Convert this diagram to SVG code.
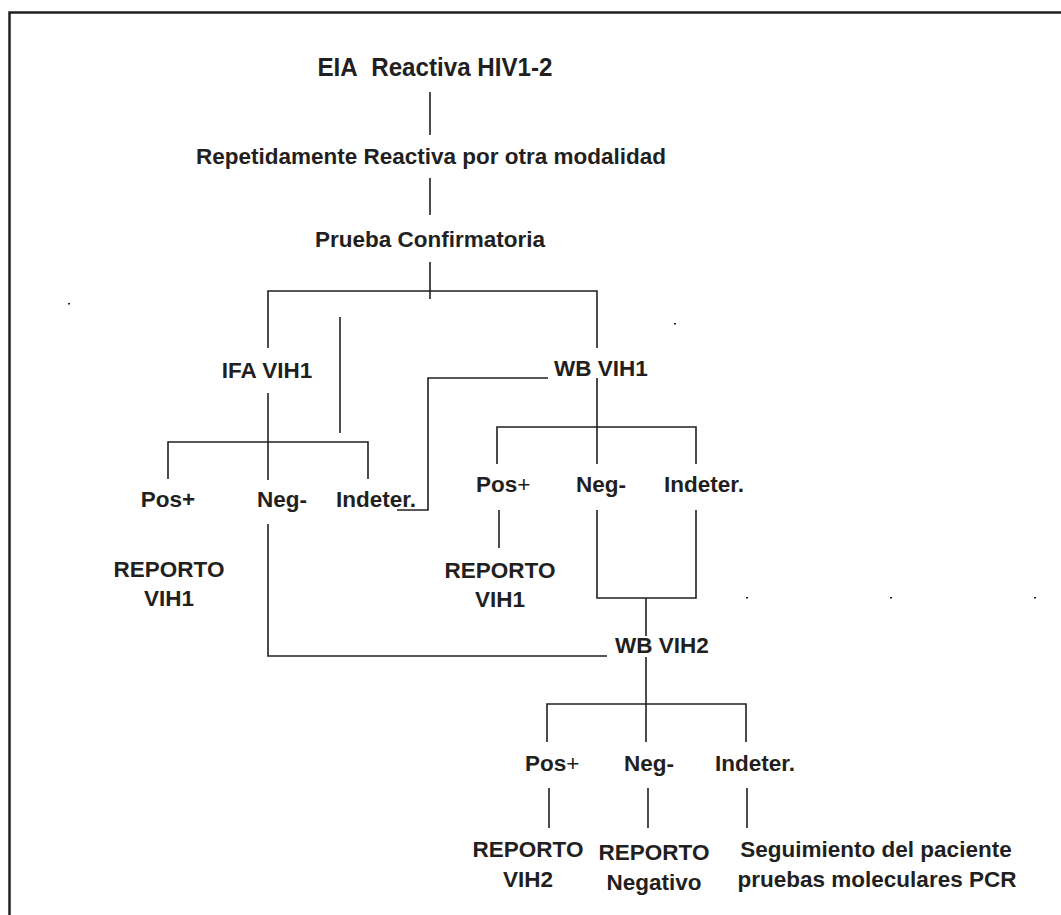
<svg xmlns="http://www.w3.org/2000/svg" width="1061" height="915" viewBox="0 0 1061 915">
<style>
text{font-family:"Liberation Sans",Arial,sans-serif;font-weight:bold;font-size:22.5px;fill:#231f20}
.c{text-anchor:middle}
.n{font-size:25px}
.ln{fill:none;stroke:#231f20;stroke-width:1.6}
.fr{fill:none;stroke:#231f20;stroke-width:2.5}
.dot{fill:#231f20}
</style>
<rect width="1061" height="915" fill="#fff"/>
<path class="fr" d="M9.5,915 V12.5 H1061"/>
<g id="connectors">
<path class="ln" d="M430,92 V135"/>
<path class="ln" d="M430,178 V215"/>
<path class="ln" d="M430,262 V299"/>
<path class="ln" d="M268,348 V291 H597 V348"/>
<path class="ln" d="M340,317 V433"/>
<path class="ln" d="M268,393 V480"/>
<path class="ln" d="M168,479 V442 H368 V479"/>
<path class="ln" d="M548,378 H428 V510 H397"/>
<path class="ln" d="M597,378 V464"/>
<path class="ln" d="M497,464 V427 H696 V464"/>
<path class="ln" d="M499,510 V548"/>
<path class="ln" d="M597,510 V598 H696 V510"/>
<path class="ln" d="M646,598 V636"/>
<path class="ln" d="M268,524 V656 H607"/>
<path class="ln" d="M646,657 V742"/>
<path class="ln" d="M547,742 V704 H746 V742"/>
<path class="ln" d="M549,788 V828"/>
<path class="ln" d="M648,788 V828"/>
<path class="ln" d="M747,788 V828"/>
</g>
<g id="dots">
<rect class="dot" x="68" y="303" width="2" height="1.5"/>
<rect class="dot" x="674" y="323" width="2" height="1.5"/>
<rect class="dot" x="746" y="597" width="2" height="1.5"/>
<rect class="dot" x="890" y="597" width="2" height="1.5"/>
<rect class="dot" x="1034" y="597" width="2" height="1.5"/>
</g>
<g id="n-eia"><text class="c n" x="435" y="76" textLength="235" lengthAdjust="spacingAndGlyphs">EIA&#160; Reactiva HIV1-2</text></g>
<g id="n-repetida"><text class="c" x="431" y="164">Repetidamente Reactiva por otra modalidad</text></g>
<g id="n-prueba"><text class="c" x="430" y="247">Prueba Confirmatoria</text></g>
<g id="n-ifa"><text class="c" x="267" y="378">IFA VIH1</text></g>
<g id="n-wb1"><text x="554" y="376">WB VIH1</text></g>
<g id="n-ifa-pos"><text class="c" x="168" y="507">Pos+</text></g>
<g id="n-ifa-neg"><text x="257" y="507">Neg-</text></g>
<g id="n-ifa-ind"><text x="336" y="507">Indeter.</text></g>
<g id="n-ifa-rep"><text class="c" x="169" y="577">REPORTO</text><text class="c" x="169" y="606">VIH1</text></g>
<g id="n-wb1-pos"><text x="476" y="492">Pos<tspan font-weight="normal">+</tspan></text></g>
<g id="n-wb1-neg"><text x="576" y="492">Neg-</text></g>
<g id="n-wb1-ind"><text x="664" y="492">Indeter.</text></g>
<g id="n-wb1-rep"><text class="c" x="500" y="578">REPORTO</text><text class="c" x="500" y="607">VIH1</text></g>
<g id="n-wb2"><text x="615" y="653">WB VIH2</text></g>
<g id="n-wb2-pos"><text x="525" y="771">Pos<tspan font-weight="normal">+</tspan></text></g>
<g id="n-wb2-neg"><text x="624" y="771">Neg-</text></g>
<g id="n-wb2-ind"><text x="715" y="771">Indeter.</text></g>
<g id="n-rep2"><text class="c" x="528" y="857">REPORTO</text><text class="c" x="528" y="887">VIH2</text></g>
<g id="n-repneg"><text class="c" x="654" y="860">REPORTO</text><text class="c" x="654" y="890">Negativo</text></g>
<g id="n-seg"><text class="c" x="876" y="857">Seguimiento del paciente</text><text class="c" x="877" y="887">pruebas moleculares PCR</text></g>
</svg>
